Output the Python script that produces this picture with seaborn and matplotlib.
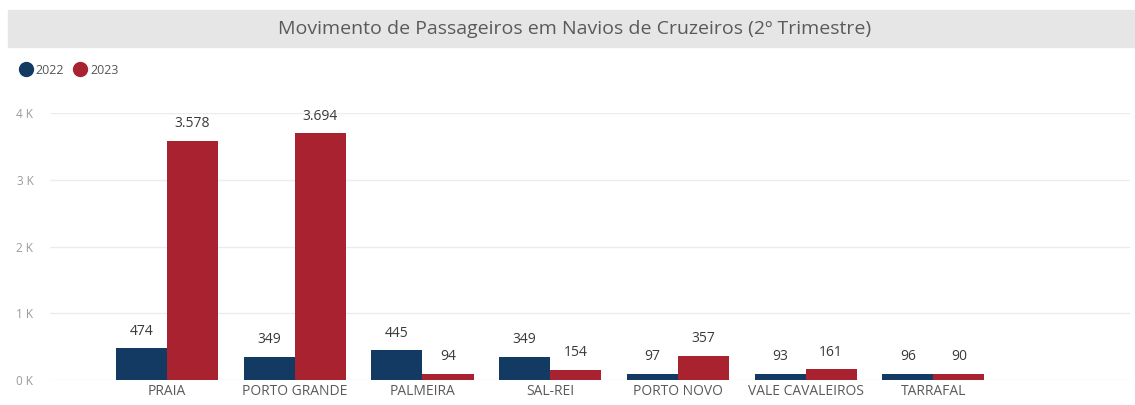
import matplotlib
matplotlib.use("Agg")
import matplotlib.pyplot as plt
from matplotlib.patches import Rectangle
from matplotlib.lines import Line2D
import seaborn as sns
import pandas as pd

# dados
portos = ['PRAIA', 'PORTO GRANDE', 'PALMEIRA', 'SAL-REI', 'PORTO NOVO', 'VALE CAVALEIROS', 'TARRAFAL']
anos = ['2022', '2023']
pax_2022 = [474, 349, 445, 349, 97, 93, 96]
pax_2023 = [3578, 3694, 94, 154, 357, 161, 90]
ticks_y = [0, 1000, 2000, 3000, 4000]
ticks_y_lab = ['0 K', '1 K', '2 K', '3 K', '4 K']
cores = {'2022': '#123a63', '2023': '#a8222f'}

df = pd.DataFrame({
    'porto': portos * 2,
    'ano': ['2022'] * len(portos) + ['2023'] * len(portos),
    'pax': pax_2022 + pax_2023,
})

sns.set_style('white')
plt.rcParams['font.family'] = ['Open Sans', 'DejaVu Sans']

fig = plt.figure(figsize=(11.35, 4.05), dpi=100)

# faixa do titulo
fig.patches.append(Rectangle((8 / 1135, 1 - 47 / 405), 1 - 8 / 1135, 37 / 405,
                             transform=fig.transFigure, color='#e6e6e6', zorder=0))
fig.text(575 / 1135, 1 - 29 / 405, 'Movimento de Passageiros em Navios de Cruzeiros (2º Trimestre)',
         ha='center', va='center', fontsize=14, color='#5a5a5a')

ax = fig.add_axes([50 / 1135, 25 / 405, 1080 / 1135, 267 / 405])
sns.barplot(data=df, x='porto', y='pax', hue='ano', palette=cores, order=portos,
            hue_order=anos, width=0.8, saturation=1, gap=0, linewidth=0,
            ax=ax, legend=False)

for cont in ax.containers:
    labs = [f'{int(v):,}'.replace(',', '.') for v in cont.datavalues]
    ax.bar_label(cont, labels=labs, padding=7, fontsize=10, color='#3a3a3a', clip_on=False)

ax.set_ylim(0, 4000)
ax.set_xlim(-0.916, 7.54)
ax.set_yticks(ticks_y)
ax.set_yticklabels(ticks_y_lab)
ax.grid(axis='y', color='#ececec', linewidth=1)
ax.set_axisbelow(True)
sns.despine(ax=ax, left=True, bottom=True)
ax.tick_params(axis='y', colors='#9a9a9a', labelsize=8.5, length=0, pad=12)
ax.tick_params(axis='x', colors='#5a5a5a', labelsize=10, length=0, pad=3)
ax.set_xlabel('')
ax.set_ylabel('')

# legenda
handles = [Line2D([], [], marker='o', linestyle='', markersize=10, color=cores[a]) for a in anos]
fig.legend(handles, anos, loc='center left', bbox_to_anchor=(8 / 1135, 1 - 70 / 405),
           ncol=2, frameon=False, fontsize=9, handletextpad=-0.2, columnspacing=0.3,
           borderaxespad=0, labelcolor='#555555')

fig.savefig('out.png', dpi=100)
